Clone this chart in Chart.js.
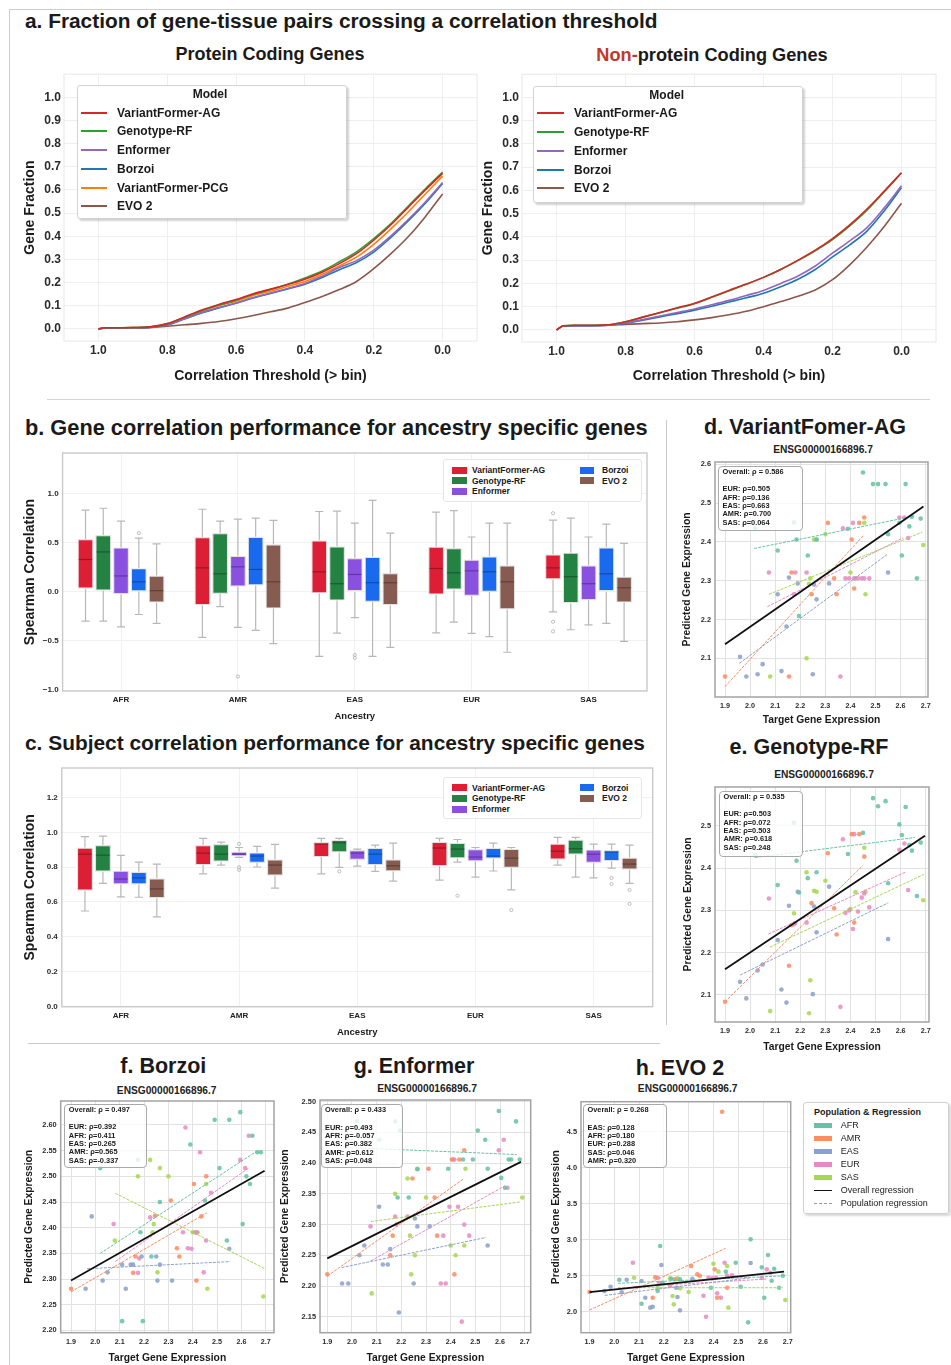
<!DOCTYPE html>
<html>
<head>
<meta charset="utf-8">
<title>Gene expression model comparison</title>
<script src="https://cdn.jsdelivr.net/npm/chart.js@4.4.1/dist/chart.umd.min.js"></script>
<style>
  html, body { margin: 0; padding: 0; background: #fff; }
  body { position: relative; width: 951px; height: 1365px; overflow: hidden;
         font-family: "Liberation Sans", Arial, Helvetica, sans-serif; color: #1a1a1a; }
  canvas { position: absolute; }
  .t { position: absolute; white-space: nowrap; line-height: 1; }
</style>
</head>
<body>
<script>
// ---------- a. fraction of gene-tissue pairs ----------
const models = ['VariantFormer-AG', 'Genotype-RF', 'Enformer', 'Borzoi', 'VariantFormer-PCG', 'EVO 2'];
const modelColors = ['#d62728', '#2ca02c', '#9467bd', '#1f77b4', '#ff7f0e', '#8c564b'];
const thresholds = [1.0, 0.98, 0.95, 0.9, 0.85, 0.8, 0.75, 0.7, 0.65, 0.6, 0.55, 0.5, 0.45, 0.4, 0.35, 0.3, 0.25, 0.2, 0.15, 0.1, 0.05, 0.0];
const thresholdTicks = [0, 0.2, 0.4, 0.6, 0.8, 1.0];
const fractionTicks = [0, 0.1, 0.2, 0.3, 0.4, 0.5, 0.6, 0.7, 0.8, 0.9, 1.0];

// protein coding genes
const pcAG  = [0, 0.005, 0.005, 0.006, 0.009, 0.023, 0.052, 0.082, 0.106, 0.127, 0.152, 0.172, 0.192, 0.215, 0.245, 0.282, 0.325, 0.383, 0.450, 0.525, 0.600, 0.672];
const pcRF  = [0, 0.005, 0.005, 0.006, 0.009, 0.022, 0.050, 0.079, 0.103, 0.124, 0.150, 0.170, 0.193, 0.220, 0.250, 0.290, 0.333, 0.390, 0.455, 0.530, 0.605, 0.677];
const pcEnf = [0, 0.004, 0.004, 0.005, 0.007, 0.018, 0.044, 0.071, 0.093, 0.112, 0.136, 0.155, 0.175, 0.196, 0.228, 0.265, 0.295, 0.340, 0.402, 0.472, 0.548, 0.632];
const pcBor = [0, 0.004, 0.004, 0.005, 0.007, 0.017, 0.043, 0.069, 0.091, 0.111, 0.134, 0.153, 0.173, 0.193, 0.222, 0.256, 0.287, 0.332, 0.395, 0.466, 0.543, 0.628];
const pcPCG = [0, 0.005, 0.005, 0.006, 0.008, 0.021, 0.048, 0.076, 0.100, 0.120, 0.145, 0.163, 0.184, 0.205, 0.236, 0.272, 0.310, 0.365, 0.432, 0.505, 0.583, 0.660];
const pcEvo = [0, 0.004, 0.004, 0.005, 0.006, 0.012, 0.018, 0.024, 0.032, 0.044, 0.058, 0.074, 0.090, 0.114, 0.140, 0.170, 0.205, 0.260, 0.325, 0.398, 0.485, 0.583];

// non-protein coding genes
const npAG  = [0, 0.018, 0.020, 0.020, 0.022, 0.035, 0.055, 0.075, 0.095, 0.115, 0.142, 0.170, 0.197, 0.226, 0.260, 0.300, 0.343, 0.393, 0.452, 0.520, 0.597, 0.676];
const npRF  = [0, 0.018, 0.020, 0.020, 0.022, 0.035, 0.055, 0.074, 0.093, 0.113, 0.140, 0.168, 0.196, 0.226, 0.260, 0.298, 0.340, 0.388, 0.447, 0.515, 0.594, 0.676];
const npEnf = [0, 0.017, 0.018, 0.018, 0.020, 0.030, 0.045, 0.060, 0.075, 0.090, 0.108, 0.127, 0.148, 0.170, 0.200, 0.232, 0.275, 0.330, 0.383, 0.440, 0.525, 0.620];
const npBor = [0, 0.017, 0.018, 0.018, 0.020, 0.028, 0.042, 0.056, 0.070, 0.085, 0.102, 0.120, 0.138, 0.158, 0.186, 0.218, 0.260, 0.314, 0.366, 0.425, 0.512, 0.612];
const npEvo = [0, 0.017, 0.018, 0.018, 0.020, 0.024, 0.027, 0.030, 0.035, 0.043, 0.053, 0.065, 0.080, 0.100, 0.122, 0.145, 0.172, 0.216, 0.280, 0.357, 0.445, 0.545];

// ---------- b / c. box plots: [lower whisker, q1, median, q3, upper whisker] per ancestry ----------
const ancestries = ['AFR', 'AMR', 'EAS', 'EUR', 'SAS'];
const boxModels = [0, 1, 2, 3, 5];
const boxColors = ['#dc1f35', '#248243', '#8a50e0', '#1a6aef', '#865b50'];

const geneAG  = [[-0.300, 0.030, 0.327, 0.535, 0.830], [-0.465, -0.138, 0.242, 0.556, 0.838], [-0.657, -0.017, 0.202, 0.522, 0.815], [-0.418, -0.030, 0.236, 0.458, 0.808], [-0.205, 0.125, 0.242, 0.380, 0.727]];
const geneRF  = [[-0.300, 0.010, 0.404, 0.576, 0.848], [-0.152, -0.024, 0.182, 0.596, 0.717], [-0.421, -0.091, 0.081, 0.461, 0.818], [-0.310, 0.020, 0.192, 0.444, 0.825], [-0.387, -0.118, 0.152, 0.397, 0.747]];
const geneEnf = [[-0.357, -0.027, 0.160, 0.450, 0.717], [-0.364, 0.050, 0.253, 0.364, 0.737], [-0.263, 0.000, 0.175, 0.343, 0.697], [-0.424, -0.044, 0.212, 0.327, 0.556], [-0.337, -0.088, 0.081, 0.269, 0.556]];
const geneBor = [[-0.232, 0.003, 0.100, 0.239, 0.545], [-0.394, 0.064, 0.226, 0.559, 0.747], [-0.657, -0.104, 0.091, 0.354, 0.929], [-0.458, -0.003, 0.202, 0.360, 0.697], [-0.323, 0.000, 0.182, 0.451, 0.687]];
const geneEvo = [[-0.323, -0.111, 0.010, 0.165, 0.485], [-0.529, -0.172, 0.100, 0.481, 0.724], [-0.566, -0.138, 0.091, 0.189, 0.596], [-0.616, -0.182, 0.100, 0.269, 0.697], [-0.505, -0.111, 0.040, 0.155, 0.492]];
// [model, ancestry, value]
const geneOutliers = [[3, 0, 0.596], [2, 1, -0.862], [2, 2, -0.643], [2, 2, -0.673], [0, 4, 0.798], [0, 4, -0.306], [0, 4, -0.404]];
const geneTicks = [-1.0, -0.5, 0, 0.5, 1.0];

const subjAG  = [[0.548, 0.665, 0.875, 0.913, 0.976], [0.761, 0.812, 0.881, 0.927, 0.965], [0.761, 0.858, 0.933, 0.944, 0.965], [0.726, 0.805, 0.910, 0.946, 0.965], [0.812, 0.843, 0.892, 0.936, 0.971]];
const subjRF  = [[0.707, 0.774, 0.869, 0.927, 0.978], [0.812, 0.831, 0.875, 0.933, 0.944], [0.799, 0.885, 0.940, 0.957, 0.965], [0.829, 0.850, 0.904, 0.940, 0.959], [0.743, 0.871, 0.906, 0.959, 0.971]];
const subjEnf = [[0.629, 0.701, 0.732, 0.780, 0.868], [0.856, 0.862, 0.875, 0.890, 0.913], [0.806, 0.841, 0.881, 0.898, 0.904], [0.743, 0.833, 0.858, 0.904, 0.913], [0.738, 0.824, 0.875, 0.902, 0.933]];
const subjBor = [[0.627, 0.700, 0.738, 0.774, 0.829], [0.801, 0.824, 0.864, 0.885, 0.919], [0.776, 0.812, 0.875, 0.912, 0.927], [0.778, 0.848, 0.864, 0.912, 0.938], [0.795, 0.835, 0.887, 0.898, 0.933]];
const subjEvo = [[0.514, 0.621, 0.675, 0.736, 0.818], [0.680, 0.751, 0.812, 0.845, 0.931], [0.720, 0.776, 0.808, 0.845, 0.938], [0.669, 0.795, 0.852, 0.906, 0.913], [0.707, 0.785, 0.818, 0.856, 0.927]];
const subjOutliers = [[2, 1, 0.934], [2, 1, 0.799], [2, 1, 0.785], [1, 2, 0.776], [1, 3, 0.636], [4, 3, 0.554], [3, 4, 0.738], [3, 4, 0.703], [4, 4, 0.669], [4, 4, 0.589]];
const subjTicks = [0, 0.2, 0.4, 0.6, 0.8, 1.0, 1.2];

// ---------- d-h. ENSG00000166896.7 scatter: target (x) vs predicted (y) ----------
const pops = ['AFR', 'AMR', 'EAS', 'EUR', 'SAS'];
const popColors = ['#66c2a5', '#fc8d62', '#8da0cb', '#e78ac3', '#a6d854'];
const xAFR = [2.02, 2.11, 2.175, 2.185, 2.195, 2.23, 2.265, 2.39, 2.45, 2.49, 2.51, 2.54, 2.55, 2.595, 2.605, 2.62, 2.635, 2.645, 2.665, 2.68];
const xAMR = [1.9, 2.155, 2.165, 2.245, 2.31, 2.335, 2.345, 2.405, 2.415, 2.435, 2.455];
const xEAS = [1.96, 1.985, 2.03, 2.05, 2.11, 2.125, 2.145, 2.155, 2.19, 2.25, 2.255, 2.265, 2.315, 2.55];
const xEUR = [2.075, 2.175, 2.18, 2.225, 2.36, 2.37, 2.38, 2.395, 2.41, 2.415, 2.43, 2.445, 2.455, 2.475, 2.595, 2.615, 2.63];
const xSAS = [2.08, 2.175, 2.225, 2.235, 2.24, 2.255, 2.265, 2.3, 2.4, 2.42, 2.455, 2.46, 2.69];

// d. VariantFormer-AG
const dAFR = [2.435, 2.378, 2.45, 2.406, 2.209, 2.365, 2.406, 2.434, 2.579, 2.549, 2.549, 2.549, 2.42, 2.449, 2.365, 2.549, 2.44, 2.465, 2.306, 2.46];
const dAMR = [2.053, 2.053, 2.321, 2.265, 2.449, 2.306, 2.265, 2.406, 2.28, 2.449, 2.463];
const dEAS = [2.104, 2.053, 2.059, 2.085, 2.265, 2.067, 2.182, 2.308, 2.293, 2.059, 2.29, 2.252, 2.293, 2.321];
const dEUR = [2.321, 2.265, 2.321, 2.321, 2.053, 2.435, 2.306, 2.306, 2.449, 2.306, 2.306, 2.306, 2.306, 2.306, 2.463, 2.463, 2.41];
const dSAS = [2.053, 2.45, 2.1, 2.292, 2.306, 2.406, 2.406, 2.42, 2.321, 2.306, 2.449, 2.265, 2.392];
// e. Genotype-RF
const eAFR = [2.43, 2.36, 2.507, 2.417, 2.342, 2.376, 2.39, 2.433, 2.483, 2.565, 2.546, 2.558, 2.364, 2.503, 2.478, 2.544, 2.454, 2.441, 2.334, 2.46];
const eAMR = [2.084, 2.169, 2.265, 2.317, 2.435, 2.305, 2.243, 2.48, 2.271, 2.48, 2.427];
const eEAS = [2.131, 2.092, 2.158, 2.172, 2.23, 2.113, 2.082, 2.311, 2.344, 2.102, 2.309, 2.248, 2.356, 2.232];
const eEUR = [2.328, 2.267, 2.27, 2.271, 2.072, 2.468, 2.294, 2.30, 2.256, 2.48, 2.297, 2.33, 2.34, 2.307, 2.443, 2.458, 2.348];
const eSAS = [2.062, 2.293, 2.39, 2.057, 2.135, 2.346, 2.344, 2.37, 2.303, 2.343, 2.448, 2.344, 2.324];
// f. Borzoi
const fAFR = [2.516, 2.218, 2.532, 2.391, 2.218, 2.344, 2.45, 2.562, 2.453, 2.61, 2.516, 2.375, 2.61, 2.625, 2.407, 2.5, 2.485, 2.579, 2.547, 2.547];
const fAMR = [2.281, 2.312, 2.344, 2.423, 2.453, 2.36, 2.344, 2.485, 2.297, 2.422, 2.5];
const fEAS = [2.281, 2.422, 2.297, 2.313, 2.328, 2.281, 2.328, 2.328, 2.344, 2.344, 2.297, 2.328, 2.297, 2.359];
const fEUR = [2.407, 2.312, 2.34, 2.42, 2.391, 2.595, 2.36, 2.359, 2.391, 2.39, 2.547, 2.313, 2.375, 2.468, 2.532, 2.516, 2.579];
const fSAS = [2.375, 2.5, 2.532, 2.391, 2.407, 2.313, 2.516, 2.5, 2.391, 2.391, 2.485, 2.281, 2.266];
// g. Enformer
const gAFR = [2.468, 2.438, 2.468, 2.344, 2.453, 2.344, 2.39, 2.391, 2.406, 2.406, 2.453, 2.438, 2.391, 2.485, 2.376, 2.36, 2.406, 2.406, 2.468, 2.406];
const gAMR = [2.219, 2.25, 2.282, 2.375, 2.391, 2.344, 2.282, 2.406, 2.219, 2.406, 2.421];
const gEAS = [2.204, 2.204, 2.25, 2.266, 2.329, 2.235, 2.235, 2.26, 2.157, 2.204, 2.31, 2.297, 2.297, 2.266];
const gEUR = [2.297, 2.313, 2.30, 2.313, 2.204, 2.282, 2.204, 2.329, 2.406, 2.406, 2.329, 2.142, 2.30, 2.282, 2.421, 2.438, 2.36];
const gSAS = [2.188, 2.35, 2.375, 2.282, 2.219, 2.25, 2.391, 2.344, 2.266, 2.25, 2.266, 2.391, 2.344];
// h. EVO 2
const hAFR = [2.444, 2.111, 2.287, 2.912, 2.40, 2.458, 2.45, 2.333, 2.556, 2.68, 2.347, 1.852, 3.005, 2.616, 2.194, 2.787, 2.43, 2.597, 2.333, 2.50];
const hAMR = [2.273, 2.194, 2.477, 2.45, 2.634, 2.519, 2.50, 2.588, 2.194, 4.778, 2.333];
const hEAS = [2.287, 2.347, 2.269, 2.444, 2.426, 2.194, 2.056, 2.069, 2.648, 2.333, 2.204, 2.019, 2.458, 2.676];
const hEUR = [2.68, 2.472, 2.40, 2.361, 2.222, 1.93, 2.47, 2.463, 2.47, 2.255, 2.194, 2.68, 2.50, 2.505, 2.47, 2.588, 2.54];
const hSAS = [2.472, 2.333, 2.463, 2.218, 2.102, 2.463, 2.324, 2.273, 2.667, 2.556, 2.634, 2.056, 2.162];

// regression lines [x0, y0, x1, y1]: AFR, AMR, EAS, EUR, SAS, overall
const fitD = [[2.016, 2.383, 2.657, 2.467], [1.9, 2.027, 2.454, 2.418], [1.957, 2.087, 2.547, 2.368], [2.069, 2.233, 2.611, 2.411], [2.075, 2.265, 2.687, 2.425], [1.9, 2.136, 2.691, 2.491]];
const fitE = [[2.02, 2.425, 2.657, 2.472], [1.9, 2.084, 2.449, 2.406], [1.96, 2.147, 2.551, 2.318], [2.073, 2.244, 2.622, 2.391], [2.079, 2.213, 2.693, 2.385], [1.9, 2.161, 2.697, 2.476]];
const fitF = [[2.02, 2.35, 2.663, 2.549], [1.9, 2.275, 2.458, 2.429], [1.966, 2.32, 2.554, 2.334], [2.082, 2.334, 2.629, 2.516], [2.082, 2.467, 2.697, 2.32], [1.9, 2.297, 2.695, 2.511]];
const fitG = [[2.014, 2.425, 2.668, 2.414], [1.9, 2.216, 2.451, 2.374], [1.958, 2.23, 2.543, 2.279], [2.077, 2.241, 2.62, 2.363], [2.077, 2.305, 2.684, 2.337], [1.9, 2.245, 2.685, 2.402]];
const fitH = [[2.015, 2.394, 2.669, 2.495], [1.9, 2.023, 2.449, 2.88], [1.962, 2.227, 2.55, 2.47], [2.077, 2.347, 2.619, 2.454], [2.015, 2.333, 2.68, 2.333], [1.9, 2.273, 2.685, 2.556]];

// spearman rho shown in each panel
const rhoD = [['Overall', '0.586'], ['EUR', '0.505'], ['AFR', '0.136'], ['EAS', '0.663'], ['AMR', '0.700'], ['SAS', '0.064']];
const rhoE = [['Overall', '0.535'], ['EUR', '0.503'], ['AFR', '0.072'], ['EAS', '0.503'], ['AMR', '0.618'], ['SAS', '0.248']];
const rhoF = [['Overall', '0.497'], ['EUR', '0.392'], ['AFR', '0.411'], ['EAS', '0.265'], ['AMR', '0.565'], ['SAS', '-0.337']];
const rhoG = [['Overall', '0.433'], ['EUR', '0.493'], ['AFR', '-0.057'], ['EAS', '0.382'], ['AMR', '0.612'], ['SAS', '0.048']];
const rhoH = [['Overall', '0.268'], ['EAS', '0.128'], ['AFR', '0.180'], ['EUR', '0.288'], ['SAS', '0.046'], ['AMR', '0.320']];

const exprTicks = [1.9, 2.0, 2.1, 2.2, 2.3, 2.4, 2.5, 2.6, 2.7];
const dTicks = [2.1, 2.2, 2.3, 2.4, 2.5, 2.6];
const eTicks = [2.1, 2.2, 2.3, 2.4, 2.5];
const fTicks = [2.2, 2.25, 2.3, 2.35, 2.4, 2.45, 2.5, 2.55, 2.6];
const gTicks = [2.15, 2.2, 2.25, 2.3, 2.35, 2.4, 2.45, 2.5];
const hTicks = [2.0, 2.5, 3.0, 3.5, 4.0, 4.5];

// ---------------- helpers ----------------
const FONT = '"Liberation Sans", Arial, Helvetica, sans-serif';
const font = (size, weight) => ({ family: FONT, size: size, weight: weight || 'bold' });

Chart.register({
  id: 'frame',
  defaults: { color: null, width: 1 },
  afterDraw(chart, args, opts) {
    if (!opts.color) return;
    const a = chart.chartArea, ctx = chart.ctx;
    ctx.save();
    ctx.strokeStyle = opts.color;
    ctx.lineWidth = opts.width;
    ctx.strokeRect(a.left, a.top, a.right - a.left, a.bottom - a.top);
    ctx.restore();
  }
});

// whiskers, medians and fliers on top of the floating bars
Chart.register({
  id: 'boxes',
  afterDatasetsDraw(chart) {
    const ctx = chart.ctx, ys = chart.scales.y;
    ctx.save();
    chart.data.datasets.forEach((ds, di) => {
      if (!ds.boxStats) return;
      const bars = chart.getDatasetMeta(di).data;
      bars.forEach((bar, i) => {
        const s = ds.boxStats[i], x = bar.x, w = bar.width;
        const lo = ys.getPixelForValue(s[0]), q1 = ys.getPixelForValue(s[1]);
        const med = ys.getPixelForValue(s[2]), q3 = ys.getPixelForValue(s[3]), hi = ys.getPixelForValue(s[4]);
        ctx.strokeStyle = '#b8b8b8';
        ctx.lineWidth = 1.2;
        ctx.beginPath();
        ctx.moveTo(x, q3); ctx.lineTo(x, hi);
        ctx.moveTo(x, q1); ctx.lineTo(x, lo);
        ctx.moveTo(x - w * 0.25, hi); ctx.lineTo(x + w * 0.25, hi);
        ctx.moveTo(x - w * 0.25, lo); ctx.lineTo(x + w * 0.25, lo);
        ctx.stroke();
        ctx.strokeStyle = 'rgba(0,0,0,0.3)';
        ctx.beginPath();
        ctx.moveTo(x - w / 2 + 1, med); ctx.lineTo(x + w / 2 - 1, med);
        ctx.stroke();
      });
      (ds.outliers || []).forEach(o => {
        const bar = bars[o[0]];
        ctx.strokeStyle = '#b0b0b0';
        ctx.lineWidth = 0.8;
        ctx.beginPath();
        ctx.arc(bar.x, ys.getPixelForValue(o[1]), 1.6, 0, Math.PI * 2);
        ctx.stroke();
      });
    });
    ctx.restore();
  }
});

function text(str, x, y, size, o) {
  o = o || {};
  const d = document.createElement('div');
  d.className = 't';
  if (o.html) d.innerHTML = str; else d.textContent = str;
  d.style.left = x + 'px';
  d.style.top = y + 'px';
  d.style.fontSize = size + 'px';
  d.style.fontWeight = o.weight || 'bold';
  if (o.color) d.style.color = o.color;
  d.style.transform = 'translate(' + (o.center ? '-50%' : '0') + ',-50%)';
  document.body.appendChild(d);
  return d;
}

function rect(x, y, w, h, css) {
  const d = document.createElement('div');
  d.style.cssText = 'position:absolute;left:' + x + 'px;top:' + y + 'px;width:' + w + 'px;height:' + h + 'px;' + (css || '');
  document.body.appendChild(d);
  return d;
}

// canvas sized so that the plot area lands on plot = [left, top, right, bottom]
function mount(plot, yTitleX, yTs, xTitleY, xTs) {
  const L = Math.floor(yTitleX - yTs * 0.6 - 2);
  const T = Math.floor(plot[1] - 10);
  const R = Math.ceil(plot[2] + 10);
  const B = Math.ceil(xTitleY + xTs * 0.6 + 2);
  const c = document.createElement('canvas');
  c.width = R - L;
  c.height = B - T;
  c.style.left = L + 'px';
  c.style.top = T + 'px';
  c.style.width = (R - L) + 'px';
  c.style.height = (B - T) + 'px';
  document.body.appendChild(c);
  return { c: c, yW: plot[0] - L, xH: B - plot[3], padT: plot[1] - T, padR: R - plot[2],
           yPad: yTitleX - L - yTs * 0.6, xPad: B - xTitleY - xTs * 0.6 };
}

function linAxis(o) {
  return {
    type: 'linear', min: o.min, max: o.max, reverse: !!o.reverse,
    afterFit: s => { if (o.isX) s.height = o.fit; else s.width = o.fit; },
    afterBuildTicks: s => { s.ticks = o.ticks.map(v => ({ value: v })); },
    ticks: { font: o.tickFont, color: '#2b2b2b', padding: o.tickPad, maxRotation: 0, autoSkip: false,
             callback: v => v.toFixed(o.dec).replace('-', '\u2212') },
    grid: { color: o.grid, drawTicks: false },
    border: { display: false },
    title: { display: true, text: o.title, font: o.titleFont, color: '#1a1a1a',
             padding: o.isX ? { top: 0, bottom: o.titlePad } : { top: o.titlePad, bottom: 0 } }
  };
}

function baseOptions(m, frameColor, frameWidth, scales) {
  return {
    responsive: false, animation: false, devicePixelRatio: 1, events: [],
    layout: { padding: { top: m.padT, right: m.padR, left: 0, bottom: 0 } },
    plugins: { legend: { display: false }, tooltip: { enabled: false },
               frame: { color: frameColor, width: frameWidth } },
    scales: scales
  };
}

function fractionChart(plot, yTitleX, xTitleY, series) {
  const m = mount(plot, yTitleX, 14, xTitleY, 14);
  new Chart(m.c, {
    type: 'line',
    data: {
      datasets: series.map(s => ({
        label: models[s[0]],
        data: thresholds.map((t, i) => ({ x: t, y: s[1][i] })),
        borderColor: modelColors[s[0]], borderWidth: 1.6, pointRadius: 0,
        cubicInterpolationMode: 'monotone'
      }))
    },
    options: baseOptions(m, '#e8e8e8', 1, {
      x: linAxis({ min: -0.1, max: 1.1, reverse: true, isX: true, fit: m.xH, ticks: thresholdTicks, dec: 1,
                   tickFont: font(12), tickPad: 2, grid: '#efefef',
                   title: 'Correlation Threshold (> bin)', titleFont: font(14), titlePad: m.xPad }),
      y: linAxis({ min: -0.052, max: 1.1, fit: m.yW, ticks: fractionTicks, dec: 1,
                   tickFont: font(12), tickPad: 3, grid: '#efefef',
                   title: 'Gene Fraction', titleFont: font(14), titlePad: m.yPad })
    })
  });
}

function boxChart(plot, yTitleX, xTitleY, stats, outliers, yMin, yMax, yTicks) {
  const m = mount(plot, yTitleX, 14, xTitleY, 9.5);
  const y = linAxis({ min: yMin, max: yMax, fit: m.yW, ticks: yTicks, dec: 1, tickFont: font(8), tickPad: 4,
                      grid: '#f1f1f1', title: 'Spearman Correlation', titleFont: font(14), titlePad: m.yPad });
  new Chart(m.c, {
    type: 'bar',
    data: {
      labels: ancestries,
      datasets: boxModels.map((k, j) => ({
        label: models[k],
        data: stats[j].map(s => [s[1], s[3]]),
        boxStats: stats[j],
        outliers: outliers.filter(o => o[0] === j).map(o => [o[1], o[2]]),
        backgroundColor: boxColors[j], borderColor: '#e2e2e2', borderWidth: 1.2, borderSkipped: false,
        categoryPercentage: 0.76, barPercentage: 0.9
      }))
    },
    options: baseOptions(m, '#c9c9c9', 1.4, {
      x: {
        type: 'category', offset: true,
        afterFit: s => { s.height = m.xH; },
        ticks: { font: font(8), color: '#222', padding: 4, maxRotation: 0, autoSkip: false },
        grid: { color: '#f1f1f1', drawTicks: false, offset: false },
        border: { display: false },
        title: { display: true, text: 'Ancestry', font: font(9.5), color: '#1a1a1a', padding: { top: 0, bottom: m.xPad } }
      },
      y: y
    })
  });
}

function scatterChart(p) {
  const m = mount(p.plot, p.yTitleX, 10.3, p.xTitleY, 10.3);
  const popX = [xAFR, xAMR, xEAS, xEUR, xSAS];
  const ds = [];
  const fo = p.fit[5];
  ds.push({ data: [{ x: fo[0], y: fo[1] }, { x: fo[2], y: fo[3] }], showLine: true,
            borderColor: '#111', borderWidth: 1.8, pointRadius: 0 });
  pops.forEach((pop, k) => {
    const f = p.fit[k];
    ds.push({ data: [{ x: f[0], y: f[1] }, { x: f[2], y: f[3] }], showLine: true,
              borderColor: popColors[k], borderWidth: 1, borderDash: [3, 1.2], pointRadius: 0 });
  });
  pops.forEach((pop, k) => {
    ds.push({ label: pop, data: popX[k].map((x, i) => ({ x: x, y: p.ys[k][i] })),
              pointRadius: 2.3, pointBorderWidth: 0, pointBackgroundColor: popColors[k] + 'dd' });
  });
  new Chart(m.c, {
    type: 'scatter',
    data: { datasets: ds },
    options: baseOptions(m, '#a3a3a3', 1.5, {
      x: linAxis({ min: p.x[0], max: p.x[1], isX: true, fit: m.xH, ticks: exprTicks, dec: 1,
                   tickFont: font(7.2), tickPad: 5, grid: '#e2e2e2',
                   title: 'Target Gene Expression', titleFont: font(10.3), titlePad: m.xPad }),
      y: linAxis({ min: p.y[0], max: p.y[1], fit: m.yW, ticks: p.ticks, dec: p.dec,
                   tickFont: font(7.4), tickPad: 4, grid: '#e2e2e2',
                   title: 'Predicted Gene Expression', titleFont: font(10.3), titlePad: m.yPad })
    })
  });
  // rho summary box
  const b = p.box;
  rect(b[0], b[1], b[2], b[3], 'background:rgba(255,255,255,0.8);border:1px solid #a9a9a9;border-radius:4px;box-sizing:border-box;');
  text(p.rho[0][0] + ': \u03c1 = ' + p.rho[0][1], b[0] + 4.5, b[1] + 6, 7.4);
  p.rho.slice(1).forEach((r, i) => text(r[0] + ': \u03c1=' + r[1], b[0] + 4.5, b[1] + 23.3 + i * 8.35, 7.4));
}

// ---------------- frame lines ----------------
rect(9, 9, 960, 1400, 'border-left:1px solid #cdcdcd;border-top:1px solid #cdcdcd;');
rect(47, 399, 883, 1, 'background:#d4d4d4;');
rect(666, 420, 1, 605, 'background:#c8c8c8;');
rect(28, 1043, 632, 1, 'background:#c8c8c8;');

// ---------------- panel a ----------------
text('a. Fraction of gene-tissue pairs crossing a correlation threshold', 25, 20.5, 20.85);
text('Protein Coding Genes', 270, 54, 18, { center: true });
text('<span style="color:#c0392b">Non-</span>protein Coding Genes', 712, 55, 18.2, { center: true, html: true });

fractionChart([64, 74, 477, 341], 30, 375.7,
  [[0, pcAG], [1, pcRF], [2, pcEnf], [3, pcBor], [4, pcPCG], [5, pcEvo]]);
fractionChart([522, 74, 936, 342], 488.3, 375.7,
  [[0, npAG], [1, npRF], [2, npEnf], [3, npBor], [5, npEvo]]);

function lineLegend(box, titleX, rowY, swX, txtX, idx) {
  rect(box[0], box[1], box[2], box[3], 'background:rgba(255,255,255,0.92);border:1px solid #d2d2d2;border-radius:3px;box-sizing:border-box;box-shadow:2px 2px 2px rgba(0,0,0,0.18);');
  text('Model', titleX, box[1] + 9, 12, { center: true });
  idx.forEach((k, r) => {
    const cy = rowY + r * 18.75;
    rect(swX, cy - 1, 26.7, 2, 'background:' + modelColors[k] + ';');
    text(models[k], txtX, cy, 12);
  });
}
lineLegend([77, 85, 270, 134], 210, 112.7, 80.7, 117, [0, 1, 2, 3, 4, 5]);
lineLegend([533, 85.5, 270, 117], 666.7, 113.3, 537.3, 574, [0, 1, 2, 3, 5]);

// ---------------- panels b and c ----------------
text('b. Gene correlation performance for ancestry specific genes', 25, 428, 21.75);
text('c. Subject correlation performance for ancestry specific genes', 25, 743, 20.9);

boxChart([62.6, 453, 647, 691], 30, 716, [geneAG, geneRF, geneEnf, geneBor, geneEvo], geneOutliers, -1.01, 1.41, geneTicks);
boxChart([61.8, 768, 652.7, 1006.7], 30, 1032.7, [subjAG, subjRF, subjEnf, subjBor, subjEvo], subjOutliers, -0.002, 1.37, subjTicks);

function boxLegend(box, rows) {
  rect(box[0], box[1], box[2], box[3], 'background:#fff;border:1px solid #e6e6e6;border-radius:3px;box-sizing:border-box;');
  boxModels.forEach((k, j) => {
    const col = j < 3 ? 0 : 1, r = j < 3 ? j : j - 3;
    const sx = col ? 579.5 : 452, tx = col ? 602 : 472;
    rect(sx, rows[r] - 3.5, 14.5, 7, 'background:' + boxColors[j] + ';');
    text(models[k], tx, rows[r], 8.5);
  });
}
boxLegend([443, 459, 199, 43], [470.3, 480.8, 491.4]);
boxLegend([443, 777, 199, 42], [787.8, 798.4, 809]);

// ---------------- panels d-h ----------------
text('d. VariantFomer-AG', 805, 428, 21.5, { center: true });
text('ENSG00000166896.7', 823, 450, 10.2, { center: true, color: '#222' });
scatterChart({ plot: [715, 462, 928, 697], yTitleX: 687.3, xTitleY: 720, x: [1.8601, 2.7092], y: [2.0003, 2.6059],
               ticks: dTicks, dec: 1, ys: [dAFR, dAMR, dEAS, dEUR, dSAS], fit: fitD, rho: rhoD, box: [718, 466, 85, 65] });

text('e. Genotype-RF', 809, 748.3, 21.5, { center: true });
text('ENSG00000166896.7', 824, 775, 10.2, { center: true, color: '#222' });
scatterChart({ plot: [715, 787, 929, 1022], yTitleX: 688.3, xTitleY: 1047.3, x: [1.8601, 2.7131], y: [2.0362, 2.5914],
               ticks: eTicks, dec: 1, ys: [eAFR, eAMR, eEAS, eEUR, eSAS], fit: fitE, rho: rhoE, box: [719, 791, 84, 66] });

text('f. Borzoi', 163.3, 1067.3, 21.5, { center: true });
text('ENSG00000166896.7', 166.7, 1090.5, 10.2, { center: true, color: '#222' });
scatterChart({ plot: [60.7, 1101, 274, 1332.7], yTitleX: 29.3, xTitleY: 1358.3, x: [1.8577, 2.7336], y: [2.1955, 2.6467],
               ticks: fTicks, dec: 2, ys: [fAFR, fAMR, fEAS, fEUR, fSAS], fit: fitF, rho: rhoF, box: [64.3, 1104, 82.4, 64.3] });

text('g. Enformer', 414, 1066.7, 21.5, { center: true });
text('ENSG00000166896.7', 427, 1089.3, 10.2, { center: true, color: '#222' });
scatterChart({ plot: [320, 1100, 530.7, 1332.7], yTitleX: 285, xTitleY: 1358.3, x: [1.8704, 2.7243], y: [2.124, 2.5028],
               ticks: gTicks, dec: 2, ys: [gAFR, gAMR, gEAS, gEUR, gSAS], fit: fitG, rho: rhoG, box: [320.5, 1104.3, 82.2, 63.4] });

text('h. EVO 2', 680, 1069.3, 21.5, { center: true });
text('ENSG00000166896.7', 687.7, 1089.3, 10.2, { center: true, color: '#222' });
scatterChart({ plot: [581, 1101.7, 790.7, 1332.7], yTitleX: 556, xTitleY: 1358.3, x: [1.8657, 2.7117], y: [1.7083, 4.9167],
               ticks: hTicks, dec: 1, ys: [hAFR, hAMR, hEAS, hEUR, hSAS], fit: fitH, rho: rhoH, box: [583, 1104.3, 84, 64] });

// population legend
rect(803, 1102, 146, 112, 'background:rgba(255,255,255,0.95);border:1px solid #cfcfcf;border-radius:3px;box-sizing:border-box;box-shadow:2px 2px 2px rgba(0,0,0,0.15);');
text('Population & Regression', 814, 1112, 9);
const legendRows = [1125, 1138.2, 1151.2, 1164.2, 1177.2, 1190.3, 1203.3];
pops.forEach((pop, k) => {
  rect(813.5, legendRows[k] - 2.5, 18.5, 5, 'background:' + popColors[k] + ';');
  text(pop, 840.7, legendRows[k], 9, { weight: 'normal' });
});
rect(813.5, legendRows[5] - 0.8, 18.5, 1.6, 'background:#111;');
text('Overall regression', 840.7, legendRows[5], 9, { weight: 'normal' });
rect(813.5, legendRows[6], 18.5, 0, 'border-top:1px dashed #999;');
text('Population regression', 840.7, legendRows[6], 9, { weight: 'normal' });
</script>
</body>
</html>
